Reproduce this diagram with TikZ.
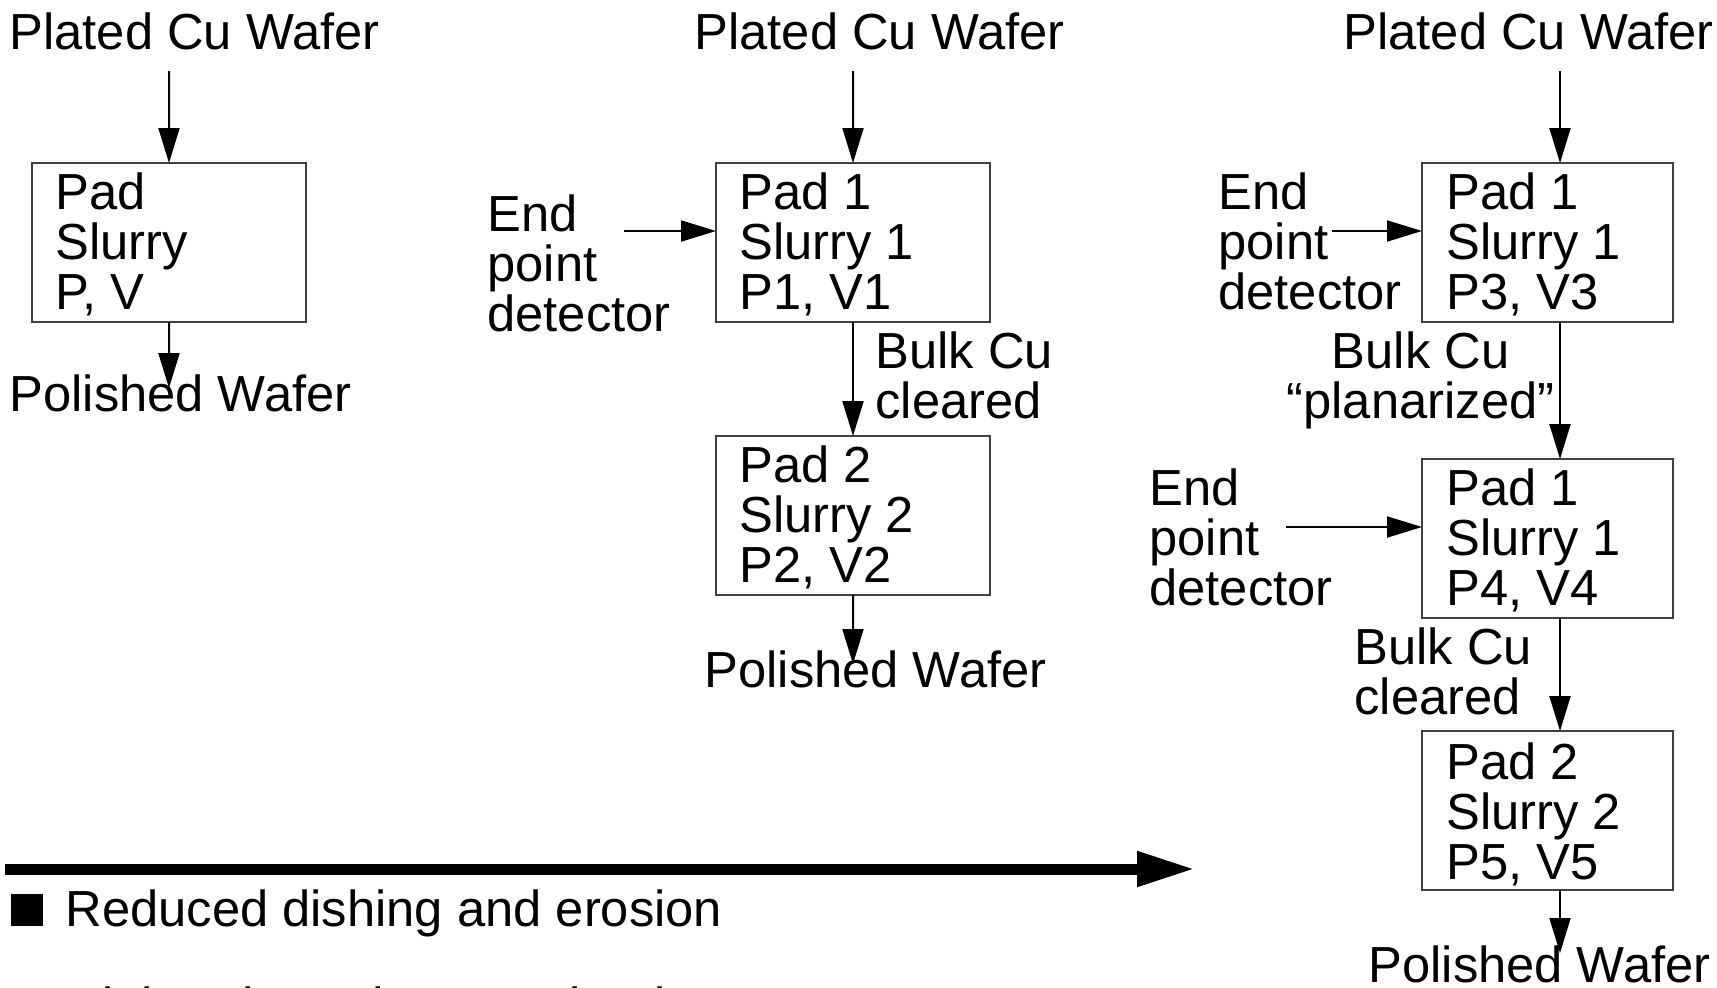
\documentclass[tikz,border=0pt]{standalone}
\usepackage{fontspec}
\setmainfont{Liberation Sans}
\usetikzlibrary{arrows.meta,calc}
\definecolor{boxgray}{gray}{0.25}
\begin{document}
\begin{tikzpicture}[x=1bp,y=-1bp,
  lbl/.style={font=\fontsize{50.7bp}{50.4bp}\selectfont, inner sep=0pt, outer sep=0pt, align=left, anchor=base west, xshift=2.5bp},
  lbltwo/.style={lbl, yshift=-50.4bp},
  lblthree/.style={lbl, yshift=-100.8bp},
  clbltwo/.style={lbltwo, align=center, anchor=base},
  stage/.style={draw=boxgray, line width=1.5bp, minimum height=159bp, inner sep=0pt, outer sep=0pt, anchor=north west},
  widebox/.style={stage, minimum width=274bp},
  narrowbox/.style={stage, minimum width=251bp},
  flow/.style={line width=2bp, -{Triangle[length=35bp,width=21bp]}},
  bigflow/.style={line width=11bp, -{Triangle[length=58bp,width=33bp]}},
  bulletsq/.style={fill=black, minimum width=32bp, minimum height=32bp, inner sep=0pt, anchor=north west},
]
\useasboundingbox (0,0) rectangle (1717,987);

% ---------- column 1 ----------
\node[lbl] (top1) at (7,49) {Plated Cu Wafer};
\node[widebox] (b1) at (32,163) {};
\node[lblthree] (t1) at (53,209) {Pad\\Slurry\\P, V};
\node[lbl] (out1) at (7,411) {Polished Wafer};
\coordinate (s1) at (169,71);
\coordinate (e1) at (169,388);
\draw[flow] (s1) -- (b1.north);
\draw[flow] (b1.south) -- (e1);

% ---------- column 2 ----------
\node[lbl] (top2) at (692,49) {Plated Cu Wafer};
\node[widebox] (b2) at (716,163) {};
\node[lblthree] (t2) at (737,209) {Pad 1\\Slurry 1\\P1, V1};
\node[lblthree] (ep2) at (485,231) {End\\point\\detector};
\node[widebox] (b3) at (716,436) {};
\node[lblthree] (t3) at (737,482) {Pad 2\\Slurry 2\\P2, V2};
\node[lbltwo] (bc2) at (873,368) {Bulk Cu\\cleared};
\node[lbl] (out2) at (702,687) {Polished Wafer};
\coordinate (s2) at (853,71);
\coordinate (d2) at (624,231);
\coordinate (e2) at (853,664);
\draw[flow] (s2) -- (b2.north);
\draw[flow] (d2) -- (d2 -| b2.west);
\draw[flow] (b2.south) -- (b3.north);
\draw[flow] (b3.south) -- (e2);

% ---------- column 3 ----------
\node[lbl] (top3) at (1341,49) {Plated Cu Wafer};
\node[narrowbox] (b4) at (1422,163) {};
\node[lblthree] (t4) at (1444,209) {Pad 1\\Slurry 1\\P3, V3};
\node[lblthree] (ep4) at (1216,209) {End\\point\\detector};
\node[clbltwo] (bp) at (1418,368) {Bulk Cu\\“planarized”};
\node[narrowbox] (b5) at (1422,459) {};
\node[lblthree] (t5) at (1444,505) {Pad 1\\Slurry 1\\P4, V4};
\node[lblthree] (ep5) at (1147,505) {End\\point\\detector};
\node[lbltwo] (bc5) at (1352,664) {Bulk Cu\\cleared};
\node[narrowbox] (b6) at (1422,731) {};
\node[lblthree] (t6) at (1444,779) {Pad 2\\Slurry 2\\P5, V5};
\node[lbl] (out3) at (1366,982) {Polished Wafer};
\coordinate (s3) at (1560,71);
\coordinate (d4) at (1332,231);
\coordinate (d5) at (1286,527);
\coordinate (e3) at (1560,953);
\draw[flow] (s3) -- (s3 |- b4.north);
\draw[flow] (d4) -- (d4 -| b4.west);
\draw[flow] (s3 |- b4.south) -- (s3 |- b5.north);
\draw[flow] (d5) -- (d5 -| b5.west);
\draw[flow] (s3 |- b5.south) -- (s3 |- b6.north);
\draw[flow] (s3 |- b6.south) -- (e3);

% ---------- bottom ----------
\coordinate (ta) at (5,869);
\coordinate (tb) at (1195,869);
\draw[bigflow] (ta) -- (tb);
\node[bulletsq] (bul1) at (11,894) {};
\node[lbl] (r1) at (63,926) {Reduced dishing and erosion};
\node[bulletsq] (bul2) at (11,993) {};
\node[lbl] (r2) at (63,1023) {Higher throughput attained};
\end{tikzpicture}
\end{document}
